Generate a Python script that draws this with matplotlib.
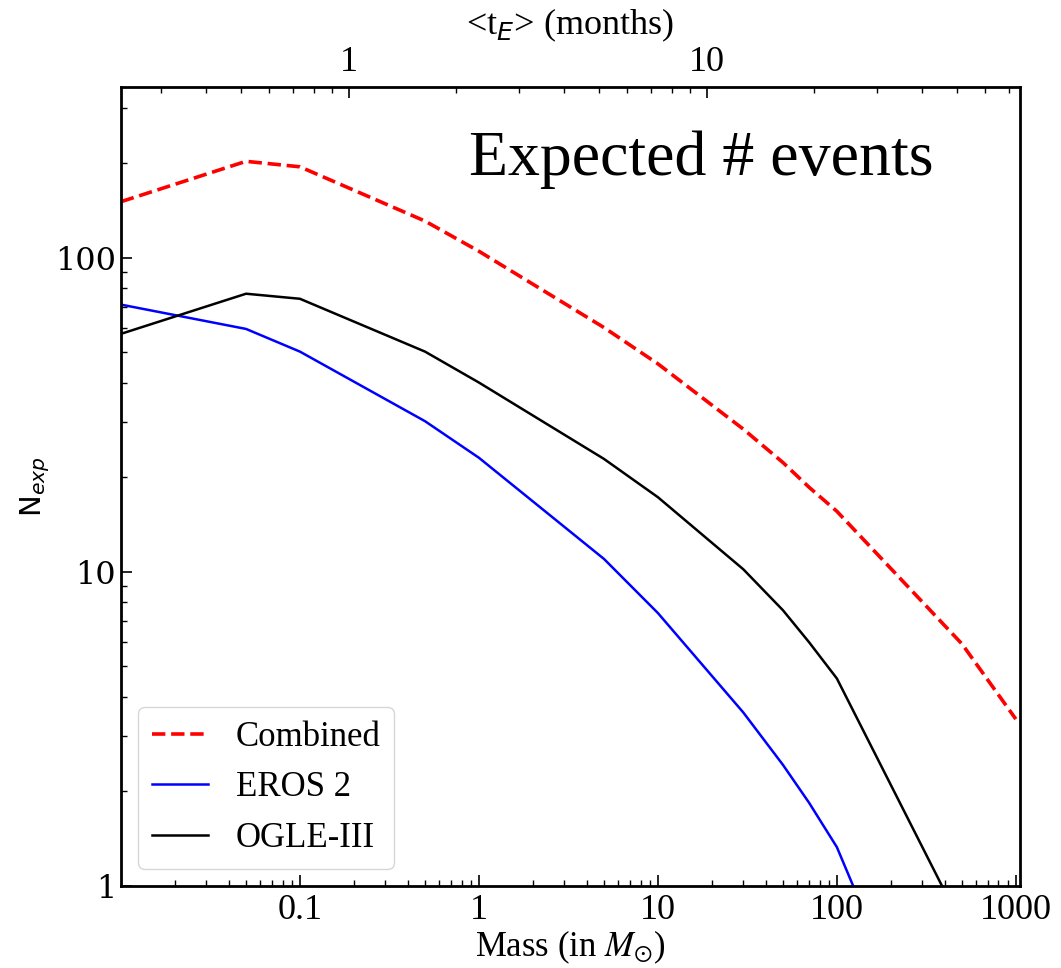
import numpy as np
import matplotlib.pyplot as plt

# Masses (in solar masses) and expected number of events
mass = [0.01, 0.05, 0.1, 0.5, 1, 5, 10, 30, 50, 70, 100, 500, 1000]
n_combined = [151, 203, 195, 131, 105, 60, 46, 28.5, 22.3, 18.6, 15.6, 5.9, 3.4]
n_eros = [71, 59.4, 50.3, 30.2, 23.1, 11.0, 7.4, 3.57, 2.43, 1.84, 1.33, 0.15, 0.03]
n_ogle = [57.3, 76.9, 74.1, 50.3, 40.1, 22.9, 17.3, 10.2, 7.55, 5.97, 4.58, 0.75, 0.3]

# masse correspondant a <tE> = 1 mois
m_one_month = 0.187

serif = "Liberation Serif"

fig = plt.figure(figsize=(10.61, 9.68), dpi=100)
ax = fig.add_axes([0.114, 0.0847, 0.847, 0.8254])

ax.plot(mass, n_combined, color="red", ls="--", lw=2.6, label="Combined")
ax.plot(mass, n_eros, color="blue", lw=1.8, label="EROS 2")
ax.plot(mass, n_ogle, color="black", lw=1.8, label="OGLE-III")

ax.set_xscale("log")
ax.set_yscale("log")
ax.set_xlim(0.01, 1050)
ax.set_ylim(1, 350)

ax.set_xticks([0.1, 1, 10, 100, 1000])
ax.set_xticklabels(["0.1", "1", "10", "100", "1000"], fontfamily=serif, fontsize=26)
ax.set_yticks([1, 10, 100])
ax.set_yticklabels(["1", "10", "100"], fontfamily="DejaVu Serif", fontsize=23)

ax.tick_params(which="major", direction="in", length=8, width=1.2, top=False, right=False)
ax.tick_params(which="minor", direction="in", length=4.5, width=1.0, top=False, right=False)
ax.tick_params(axis="x", pad=6)
for s in ax.spines.values():
    s.set_linewidth(2)

ax.set_xlabel(r"Mass (in $M_{\odot}$)", fontfamily=serif, fontsize=25,
              math_fontfamily="stix", labelpad=1)
ax.set_ylabel(r"N$_{exp}$", fontsize=21, labelpad=2)

# axe du haut : temps d'Einstein moyen
top = ax.secondary_xaxis("top", functions=(lambda m: np.sqrt(np.clip(m, 1e-12, None) / m_one_month),
                                           lambda t: m_one_month * t**2))
top.set_xscale("log")
top.set_xticks([1, 10])
top.set_xticklabels(["1", "10"], fontfamily=serif, fontsize=26)
top.tick_params(which="major", direction="in", length=8, width=1.2, pad=6)
top.tick_params(which="minor", direction="in", length=4.5, width=1.0)
top.set_xlabel(r"<t$_E$> (months)", fontfamily=serif, fontsize=26, labelpad=8)

ax.text(0.646, 0.909, "Expected # events", transform=ax.transAxes, ha="center", va="center",
        fontfamily=serif, fontsize=46)

leg = ax.legend(loc="lower left", prop={"family": serif, "size": 25}, handlelength=1.6,
                borderaxespad=0.5, frameon=True, fancybox=True)

fig.savefig("out.png", dpi=100)
